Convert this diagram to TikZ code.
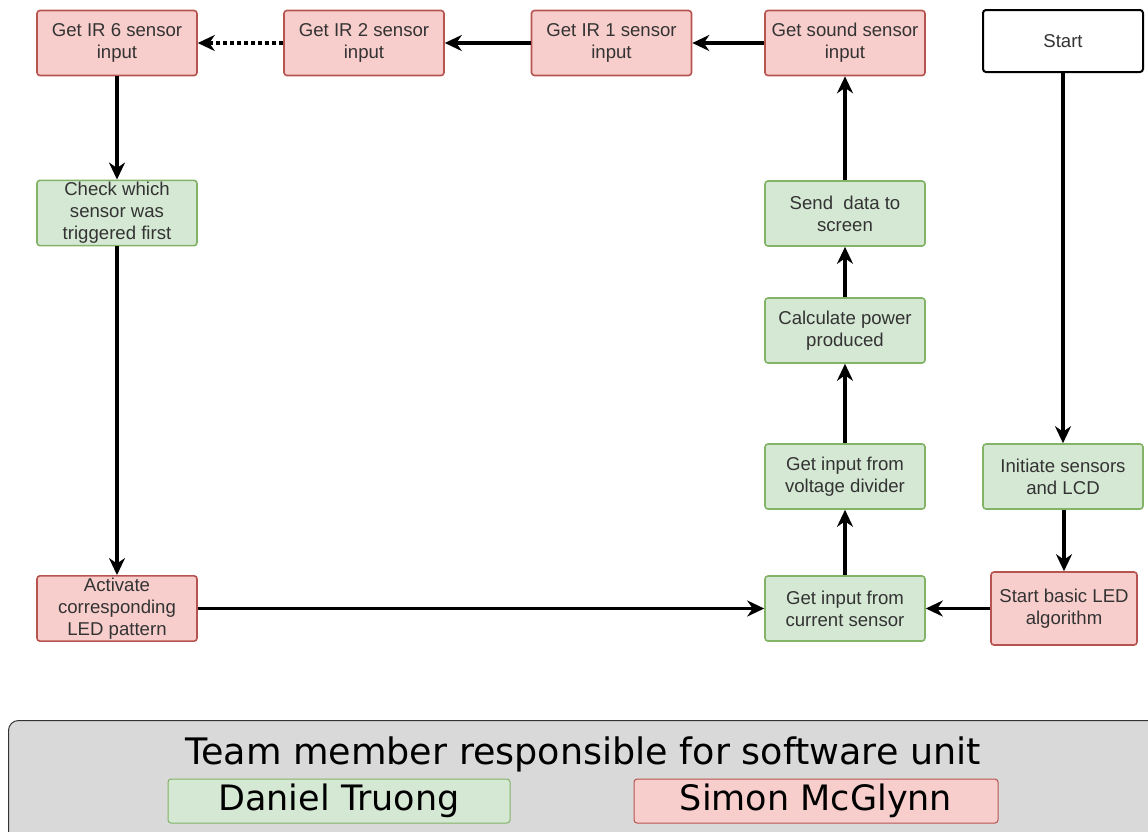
\documentclass[tikz,border=0pt]{standalone}
\usepackage{fontspec}
\setmainfont{Liberation Sans}
\newfontfamily\legendfont{DejaVu Sans}
\usetikzlibrary{arrows.meta}
\definecolor{gfill}{HTML}{D5E8D4}
\definecolor{gline}{HTML}{82B366}
\definecolor{rfill}{HTML}{F8CECC}
\definecolor{rline}{HTML}{B85450}
\definecolor{txt}{HTML}{333333}
\definecolor{legfill}{HTML}{D9D9D9}
\tikzset{
  boxbase/.style={rectangle, rounded corners=3pt, line width=1.6pt, minimum width=160pt,
    minimum height=65pt, align=center, text=txt, inner sep=2pt,
    font=\fontsize{18.6}{22}\selectfont},
  greenbox/.style={boxbase, fill=gfill, draw=gline},
  redbox/.style={boxbase, fill=rfill, draw=rline},
  startbox/.style={boxbase, fill=white, draw=black, line width=2pt, minimum height=62pt},
  flow/.style={line width=3.4pt, -{Stealth[length=17pt, width=16pt, inset=5.5pt]}},
  dotflow/.style={flow, dash pattern=on 4pt off 3pt},
  legbox/.style={rectangle, rounded corners=3pt, line width=1pt, minimum width=342pt,
    minimum height=44pt, font=\legendfont\fontsize{35}{37}\selectfont, text=black, inner sep=0pt}
}
\begin{document}
\begin{tikzpicture}[x=1pt, y=-1pt]
\useasboundingbox (0,0) rectangle (1148,831);
\clip (0,0) rectangle (1148,831);

% top row
\node[redbox]   (ir6)   at (117,43)  {Get IR 6 sensor\\input};
\node[redbox]   (ir2)   at (364,43)  {Get IR 2 sensor\\input};
\node[redbox]   (ir1)   at (611.5,43)  {Get IR 1 sensor\\input};
\node[redbox]   (sound) at (845,43)  {Get sound sensor\\input};
\node[startbox] (start) at (1063,41) {Start};

% left column
\node[greenbox] (check) at (117,213) {Check which\\sensor was\\triggered first};
\node[redbox]   (led)   at (117,608.5) {Activate\\corresponding\\LED pattern};

% middle column
\node[greenbox] (send)  at (845,213.5) {Send\ \ data to\\screen};
\node[greenbox] (power) at (845,330.5) {Calculate power\\produced};
\node[greenbox] (volt)  at (845,476.5) {Get input from\\voltage divider};
\node[greenbox] (curr)  at (845,608.5) {Get input from\\current sensor};

% right column
\node[greenbox] (init)  at (1063,476.5) {Initiate sensors\\and LCD};
\node[redbox, minimum width=146pt, minimum height=73pt] (basic) at (1064,608.5) {Start basic LED\\algorithm};

% connectors
\draw[flow] (start) -- (init);
\draw[flow] (init.south -| basic.north) -- (basic);
\draw[flow] (basic) -- (curr);
\draw[flow] (led) -- (curr);
\draw[flow] (curr) -- (volt);
\draw[flow] (volt) -- (power);
\draw[flow] (power) -- (send);
\draw[flow] (send) -- (sound);
\draw[flow] (sound) -- (ir1);
\draw[flow] (ir1) -- (ir2);
\draw[dotflow] (ir2) -- (ir6);
\draw[flow] (ir6) -- (check);
\draw[flow] (check) -- (led);

% legend
\node[draw=black!80, fill=legfill, rounded corners=10pt, line width=1pt,
  minimum width=1160pt, minimum height=130pt, anchor=north west] (legend) at (8,720) {};
\node[font=\legendfont\fontsize{36.5}{38}\selectfont, text=black] (title) at (583,754)
  {Team member responsible for software unit};
\node[legbox, fill=gfill, draw=gline] (daniel) at (339,801) {Daniel Truong};
\node[legbox, fill=rfill, draw=rline, minimum width=364pt] (simon) at (816,801) {Simon McGlynn};
\end{tikzpicture}
\end{document}
